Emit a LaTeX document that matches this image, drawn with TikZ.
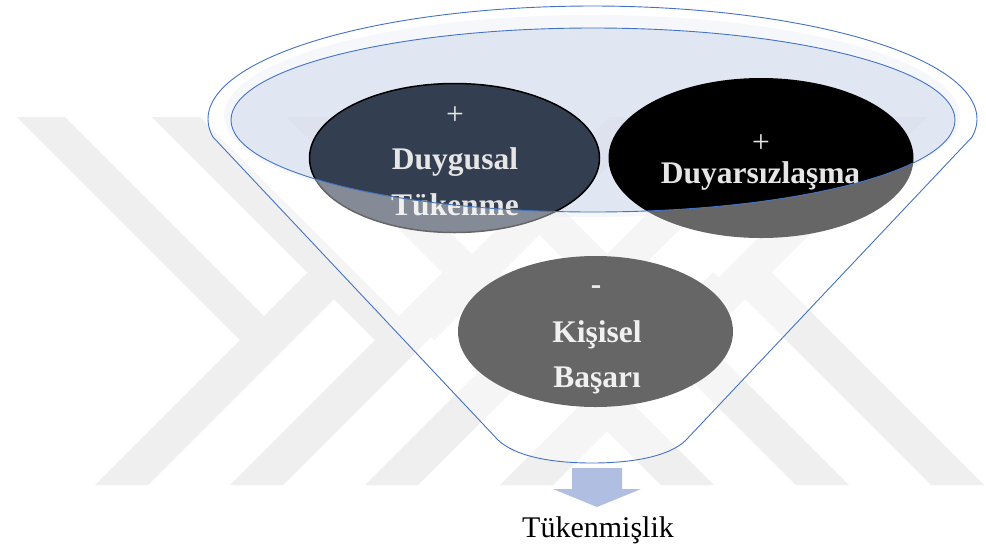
\documentclass[tikz,border=0pt]{standalone}
\usepackage{fontspec}
\setmainfont{Liberation Serif}
\usetikzlibrary{shapes.geometric}
\definecolor{wm}{RGB}{239,239,239}
\definecolor{funnelblue}{RGB}{68,114,196}
\definecolor{rimfill}{RGB}{214,222,238}
\definecolor{navy}{RGB}{51,63,80}
\definecolor{txtgray}{RGB}{231,230,230}
\definecolor{arrowblue}{RGB}{176,190,225}
\begin{document}
\begin{tikzpicture}[x=1pt,y=-1pt,
  bigtxt/.style={text=txtgray, font=\fontsize{31.5}{38}\selectfont\bfseries, inner sep=0pt, anchor=base},
  plustxt/.style={text=txtgray, font=\fontsize{31.5}{38}\selectfont, inner sep=0pt, anchor=base},
  blob/.style={ellipse, inner sep=0pt, outer sep=0pt},
  rim/.style={draw=funnelblue, line width=0.9pt},
  wmark/.style={fill=wm}]
\useasboundingbox (0,0) rectangle (986,547);
\fill[white] (0,0) rectangle (986,547);
% watermark: left lattice
\foreach \k in {0,1,2,3}{
  \fill[wmark] ({17+135*\k},117) -- ({65+135*\k},117) -- ({264+135*\k},316) -- ({240+135*\k},340) -- cycle;
  \fill[wmark] ({95+135*\k},485) -- ({148+135*\k},485) -- ({334.5+135*\k},298.5) -- ({308+135*\k},272) -- cycle;
}
% watermark: right lattice (mirrored)
\foreach \k in {0,1,2}{
  \fill[wmark] ({927-135*\k},117) -- ({879-135*\k},117) -- ({680-135*\k},316) -- ({704-135*\k},340) -- cycle;
}
\foreach \k in {-1,0,1}{
  \fill[wmark] ({849-135*\k},485) -- ({796-135*\k},485) -- ({609.5-135*\k},298.5) -- ({636-135*\k},272) -- cycle;
}
% glow and top opening fill
\fill[rimfill, fill opacity=0.35] (592,116) ellipse [x radius=368, y radius=101];
\fill[rimfill, fill opacity=0.55] (593,120) ellipse [x radius=362, y radius=92];
% ellipses
\node[blob, fill=navy, draw=black, line width=1.5pt, minimum width=290pt, minimum height=149pt] (A) at (454.5,158) {};
\node[blob, fill=black, minimum width=305pt, minimum height=160pt] (B) at (761,158) {};
\node[blob, fill=black, minimum width=275pt, minimum height=151pt] (C) at (595.5,331.5) {};
% texts
\node[plustxt] (Aplus) at (455,124) {+};
\node[bigtxt] (A1) at (455,169) {Duygusal};
\node[bigtxt] (A2) at (455,215) {Tükenme};
\node[plustxt] (Bplus) at (761,152.5) {+};
\node[bigtxt] (B1) at (760.5,183) {Duyarsızlaşma};
\node[bigtxt] (Cminus) at (596,294) {-};
\node[bigtxt] (C1) at (597,342) {Kişisel};
\node[bigtxt] (C2) at (597,387) {Başarı};
% translucent funnel body
\fill[white, fill opacity=0.4, even odd rule]
  plot[domain=-9.15:189.15, samples=150] ({592.5+384.5*cos(\x)},{119-113*sin(\x)})
  -- (498,440) .. controls (515,456) and (550,463) .. (592,463)
  .. controls (634,463) and (670,456) .. (686,440) -- cycle
  (593,120) ellipse [x radius=362, y radius=92];
% outlines
\draw[rim] (593,120) ellipse [x radius=362, y radius=92];
\draw[rim, line join=round]
  plot[domain=-9.15:189.15, samples=150] ({592.5+384.5*cos(\x)},{119-113*sin(\x)})
  -- (498,440) .. controls (515,456) and (550,463) .. (592,463)
  .. controls (634,463) and (670,456) .. (686,440) -- cycle;
% arrow and result
\fill[arrowblue] (572,468) -- (622,468) -- (622,489) -- (641,489) -- (597,507) -- (553,489) -- (572,489) -- cycle;
\node[font=\fontsize{30}{36}\selectfont, inner sep=0pt, anchor=base] (R) at (598,537) {Tükenmişlik};
\end{tikzpicture}
\end{document}
